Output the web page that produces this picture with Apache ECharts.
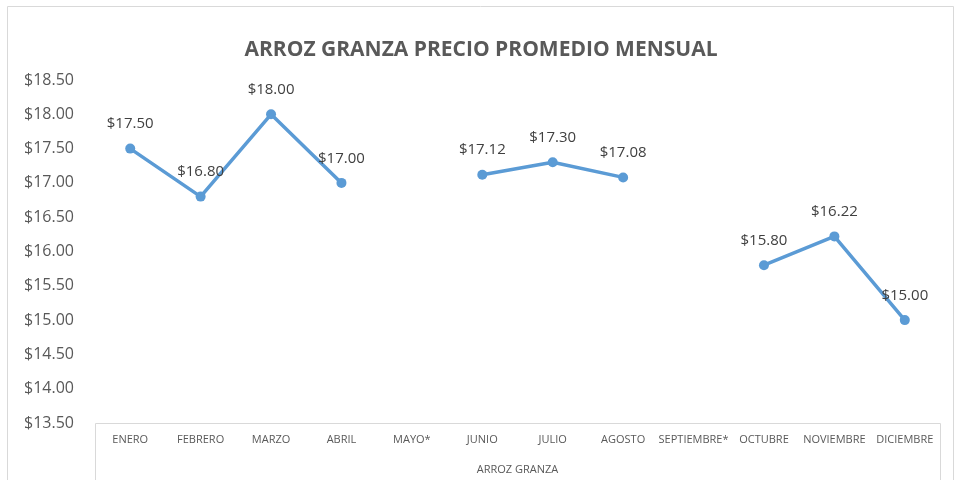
<!DOCTYPE html>
<html>
<head>
<meta charset="utf-8">
<script src="https://cdn.jsdelivr.net/npm/echarts@6/dist/echarts.min.js"></script>
<style>
  html, body { margin: 0; padding: 0; background: #fff; }
  #chart { width: 962px; height: 480px; }
</style>
</head>
<body>
<div id="chart"></div>
<script>
// datos
var months = ['ENERO', 'FEBRERO', 'MARZO', 'ABRIL', 'MAYO*', 'JUNIO', 'JULIO', 'AGOSTO', 'SEPTIEMBRE*', 'OCTUBRE', 'NOVIEMBRE', 'DICIEMBRE']
var prices = [17.50, 16.80, 18.00, 17.00, null, 17.12, 17.30, 17.08, null, 15.80, 16.22, 15.00]
var seriesName = 'ARROZ GRANZA'

var chart = echarts.init(document.getElementById('chart'))
var font = '"Open Sans", "Noto Sans", sans-serif'

var option = {
  animation: false,
  textStyle: { fontFamily: font },
  title: {
    text: 'ARROZ GRANZA PRECIO PROMEDIO MENSUAL',
    left: 'center',
    top: 35,
    textStyle: { fontFamily: font, fontSize: 21, fontWeight: 'bold', color: '#595959' }
  },
  graphic: [
    // borde exterior
    { type: 'rect', shape: { x: 7.5, y: 6.5, width: 946, height: 480 }, style: { fill: 'none', stroke: '#d9d9d9', lineWidth: 1 }, silent: true },
    // caja del eje de categorias
    { type: 'rect', shape: { x: 95.5, y: 423.5, width: 845, height: 60 }, style: { fill: 'none', stroke: '#d9d9d9', lineWidth: 1 }, silent: true }
  ],
  grid: { left: 95, right: 22, top: 80, bottom: 55 },
  xAxis: {
    type: 'category',
    data: months,
    name: seriesName,
    nameLocation: 'middle',
    nameGap: 41,
    nameTextStyle: { fontSize: 11, color: '#595959', fontFamily: font },
    axisLine: { show: false },
    axisTick: { show: false },
    axisLabel: { fontSize: 11, color: '#595959', margin: 11, interval: 0, fontFamily: font }
  },
  yAxis: {
    type: 'value',
    min: 13.5,
    max: 18.5,
    interval: 0.5,
    splitLine: { show: false },
    axisLine: { show: false },
    axisTick: { show: false },
    axisLabel: {
      fontSize: 16,
      color: '#595959',
      margin: 21,
      fontFamily: font,
      formatter: function(v) { return '$' + v.toFixed(2) }
    }
  },
  series: [
    {
      name: seriesName,
      type: 'line',
      data: prices,
      connectNulls: false,
      symbol: 'circle',
      symbolSize: 10,
      lineStyle: { color: '#5b9bd5', width: 3.5 },
      itemStyle: { color: '#5b9bd5' },
      label: {
        show: true,
        position: 'top',
        distance: 12,
        fontSize: 15,
        color: '#404040',
        fontFamily: font,
        formatter: function(p) { return '$' + p.value.toFixed(2) }
      }
    }
  ]
}

chart.setOption(option)
</script>
</body>
</html>
